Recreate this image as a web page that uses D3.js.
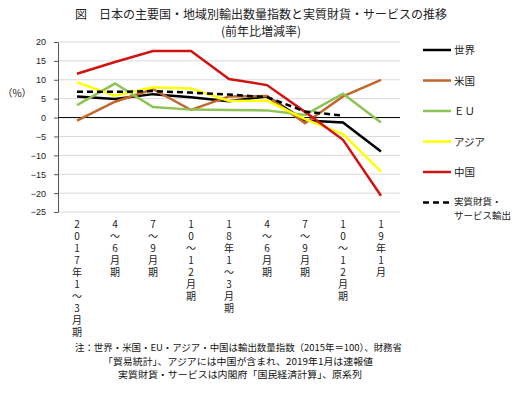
<!DOCTYPE html>
<html><head><meta charset="utf-8">
<script src="https://cdn.jsdelivr.net/npm/d3@7"></script>
<style>body{margin:0;background:#fff;}svg{display:block;font-family:"Noto Sans CJK JP","Noto Sans",sans-serif;}</style>
</head><body>
<svg id="c" width="530" height="397"></svg>
<script>
const categories = ["2017年1～3月期","4～6月期","7～9月期","10～12月期","18年1～3月期","4～6月期","7～9月期","10～12月期","19年1月"];
const world = [5.6, 4.9, 6.2, 5.4, 4.3, 5.6, -0.8, -1.3, -9.0];
const usa   = [-0.8, 4.2, 7.5, 2.0, 5.6, 5.7, -1.5, 5.6, 10.0];
const eu    = [3.3, 9.0, 2.8, 2.1, 2.0, 1.9, 0.7, 6.3, -1.3];
const asia  = [9.3, 5.8, 8.0, 7.7, 4.4, 4.5, -0.4, -4.4, -14.3];
const china = [11.6, 14.7, 17.6, 17.6, 10.2, 8.6, 1.5, -5.9, -20.7];
const realExports = [6.8, 6.8, 7.0, 6.6, 6.1, 5.4, 1.6, 0.5, null];
const seriesNames = ["世界","米国","ＥＵ","アジア","中国","実質財貨・\nサービス輸出"];
const yTicks = [20,15,10,5,0,-5,-10,-15,-20,-25];
const titleLines = ["図　日本の主要国・地域別輸出数量指数と実質財貨・サービスの推移","(前年比増減率)"];
const notes = ["注：世界・米国・EU・アジア・中国は輸出数量指数（2015年＝100）、財務省","「貿易統計」、アジアには中国が含まれ、2019年1月は速報値","実質財貨・サービスは内閣府「国民経済計算」、原系列"];

const series = [
  {name: seriesNames[0], values: world, color: "#000000", dash: null},
  {name: seriesNames[1], values: usa, color: "#c0682c", dash: null},
  {name: seriesNames[2], values: eu, color: "#8ec356", dash: null},
  {name: seriesNames[3], values: asia, color: "#ffff00", dash: null},
  {name: seriesNames[4], values: china, color: "#d01414", dash: null},
  {name: seriesNames[5], values: realExports, color: "#000000", dash: "6,4"}
];

const svg = d3.select("#c");
const x = d3.scaleBand().domain(d3.range(categories.length)).range([58, 400]);
const y = d3.scaleLinear().domain([-25, 20]).range([212, 42]);
const cx = i => x(i) + x.bandwidth() / 2;

// title
svg.append("text").attr("x", 261).attr("y", 19).attr("text-anchor", "middle")
  .attr("font-size", 12).attr("fill", "#222").text(titleLines[0]);
svg.append("text").attr("x", 261).attr("y", 36).attr("text-anchor", "middle")
  .attr("font-size", 12).attr("fill", "#222").text(titleLines[1]);

// gridlines
svg.append("g").selectAll("line").data(yTicks.filter(t => t !== 0)).join("line")
  .attr("x1", 58).attr("x2", 400).attr("y1", d => y(d)).attr("y2", d => y(d))
  .attr("stroke", "#d9d9d9").attr("stroke-width", 1);

// y axis
const ya = svg.append("g").attr("transform", "translate(58,0)")
  .call(d3.axisLeft(y).tickValues(yTicks).tickSize(4).tickSizeOuter(0).tickPadding(8));
ya.select(".domain").attr("stroke", "#555");
ya.selectAll(".tick line").attr("stroke", "#555");
ya.selectAll("text").attr("font-size", 9).attr("fill", "#222")
  .attr("font-family", "'Liberation Sans', Arial, sans-serif");

svg.append("text").attr("x", 17).attr("y", 97).attr("text-anchor", "middle")
  .attr("font-size", 10).attr("fill", "#222").text("（%）");

// zero line
svg.append("line").attr("x1", 58).attr("x2", 400).attr("y1", y(0)).attr("y2", y(0))
  .attr("stroke", "#000").attr("stroke-width", 1);

// lines
const line = d3.line().defined(d => d != null).x((d, i) => cx(i)).y(d => y(d));
series.forEach(s => {
  svg.append("path").datum(s.values).attr("d", line)
    .attr("fill", "none").attr("stroke", s.color).attr("stroke-width", 2.5)
    .attr("stroke-dasharray", s.dash).attr("stroke-linejoin", "miter");
});

// x labels (vertical writing)
categories.forEach((c, i) => {
  svg.append("text").attr("x", cx(i)).attr("y", 219)
    .attr("font-size", 10).attr("fill", "#222")
    .style("writing-mode", "vertical-rl").style("text-orientation", "upright")
    .style("font-feature-settings", "'vert' 0, 'vrt2' 0")
    .style("letter-spacing", "2px")
    .text(c);
});

// legend
series.forEach((s, i) => {
  const ly = 50 + i * 30.5;
  svg.append("line").attr("x1", 423).attr("x2", 451).attr("y1", ly).attr("y2", ly)
    .attr("stroke", s.color).attr("stroke-width", 2.5).attr("stroke-dasharray", s.dash);
  const parts = s.name.split("\n");
  if (parts.length === 1) {
    svg.append("text").attr("x", 454).attr("y", ly + 4).attr("font-size", 10.5)
      .attr("fill", "#222").text(parts[0]);
  } else {
    parts.forEach((p, j) => {
      svg.append("text").attr("x", 454).attr("y", ly + 2.5 + j * 14).attr("font-size", 9.5)
        .attr("fill", "#222").text(p);
    });
  }
});

// notes
const noteX = [75, 103, 118];
const noteY = [351, 365, 378];
const noteW = [327, 270, 244];
notes.forEach((n, i) => {
  svg.append("text").attr("x", noteX[i]).attr("y", noteY[i]).attr("font-size", 9.5)
    .attr("fill", "#111").attr("textLength", noteW[i]).attr("lengthAdjust", "spacingAndGlyphs").text(n);
});
</script>
</body></html>
